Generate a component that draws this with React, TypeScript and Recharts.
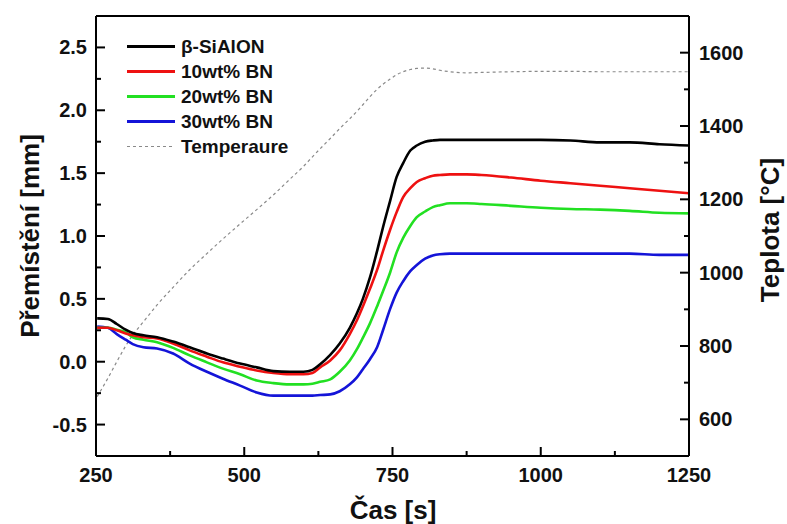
import React from 'react';
import { LineChart, Line, XAxis, YAxis, Legend, ReferenceLine, Customized } from 'recharts';

const times = [252, 270, 285, 300, 312, 330, 353, 380, 408, 437, 464, 493, 521, 549, 577, 600, 615, 628, 645, 661, 678, 690, 700, 712, 724, 734, 746, 757, 768, 780, 791, 805, 818, 830, 847, 875, 900, 950, 1000, 1050, 1100, 1150, 1200, 1250];

const sialon = [0.345, 0.34, 0.3, 0.255, 0.228, 0.21, 0.195, 0.16, 0.115, 0.065, 0.025, -0.015, -0.045, -0.075, -0.08, -0.08, -0.065, -0.02, 0.055, 0.145, 0.27, 0.385, 0.5, 0.67, 0.88, 1.07, 1.28, 1.47, 1.58, 1.68, 1.72, 1.75, 1.76, 1.765, 1.765, 1.765, 1.765, 1.765, 1.765, 1.76, 1.745, 1.745, 1.73, 1.72];

const bn10 = [0.27, 0.27, 0.25, 0.225, 0.21, 0.195, 0.185, 0.145, 0.09, 0.04, -0.005, -0.04, -0.07, -0.09, -0.1, -0.1, -0.09, -0.045, 0.01, 0.09, 0.22, 0.33, 0.44, 0.58, 0.73, 0.88, 1.05, 1.19, 1.31, 1.38, 1.43, 1.46, 1.48, 1.485, 1.49, 1.49, 1.485, 1.465, 1.44, 1.42, 1.4, 1.38, 1.36, 1.34];

const bn20 = [0.27, 0.27, 0.255, 0.235, 0.195, 0.175, 0.155, 0.11, 0.05, -0.005, -0.055, -0.1, -0.15, -0.17, -0.18, -0.18, -0.175, -0.16, -0.14, -0.08, 0.01, 0.1, 0.19, 0.305, 0.44, 0.56, 0.71, 0.87, 0.985, 1.08, 1.15, 1.195, 1.23, 1.245, 1.26, 1.26, 1.255, 1.24, 1.225, 1.215, 1.21, 1.2, 1.185, 1.18];

const bn30 = [0.28, 0.27, 0.22, 0.175, 0.14, 0.115, 0.105, 0.065, -0.015, -0.08, -0.135, -0.19, -0.245, -0.27, -0.27, -0.27, -0.27, -0.265, -0.26, -0.235, -0.18, -0.125, -0.06, 0.02, 0.115, 0.25, 0.42, 0.55, 0.64, 0.72, 0.77, 0.82, 0.845, 0.855, 0.86, 0.86, 0.86, 0.86, 0.86, 0.86, 0.86, 0.86, 0.85, 0.85];

const temperature = [662, 712, 757, 800, 830, 866, 912, 960, 1008, 1052, 1092, 1133, 1172, 1212, 1255, 1290, 1316, 1338, 1366, 1393, 1420, 1440, 1458, 1480, 1500, 1514, 1528, 1540, 1548, 1554, 1557, 1558, 1556, 1552, 1548, 1545, 1546, 1548, 1549, 1549, 1548, 1548, 1548, 1548];

const xTicks = [250, 375, 500, 625, 750, 875, 1000, 1125, 1250];
const leftTicks = [-0.5, -0.25, 0, 0.25, 0.5, 0.75, 1, 1.25, 1.5, 1.75, 2, 2.25, 2.5];
const rightTicks = [600, 700, 800, 900, 1000, 1100, 1200, 1300, 1400, 1500, 1600];

const seriesNames = ['β-SiAlON', '10wt% BN', '20wt% BN', '30wt% BN', 'Temperaure'];
const seriesColors = ['#000000', '#ee1111', '#22e022', '#1414d8', '#8a8a8a'];

const data = times.map((t, i) => ({
  t,
  s0: sialon[i],
  s1: bn10[i],
  s2: bn20[i],
  s3: bn30[i],
  temp: temperature[i],
}));

const FONT = '"Liberation Sans", Arial, Helvetica, sans-serif';

const XTick = (props: any) => {
  const { x, y, payload } = props;
  const major = payload.value % 250 === 0;
  return (
    <g>
      <line x1={x} x2={x} y1={y} y2={y - (major ? 9 : 5)} stroke="#000" strokeWidth={2} />
      {major && (
        <text x={x} y={y + 26} textAnchor="middle" fontFamily={FONT} fontWeight="bold" fontSize={20} fill="#111">
          {payload.value}
        </text>
      )}
    </g>
  );
};

const LeftTick = (props: any) => {
  const { x, y, payload } = props;
  const v = payload.value;
  const major = Math.abs(v * 2 - Math.round(v * 2)) < 1e-6;
  return (
    <g>
      <line x1={x} x2={x + (major ? 9 : 5)} y1={y} y2={y} stroke="#000" strokeWidth={2} />
      {major && (
        <text x={x - 9} y={y + 7} textAnchor="end" fontFamily={FONT} fontWeight="bold" fontSize={20} fill="#111">
          {v.toFixed(1)}
        </text>
      )}
    </g>
  );
};

const RightTick = (props: any) => {
  const { x, y, payload } = props;
  const v = payload.value;
  const major = v % 200 === 0;
  return (
    <g>
      <line x1={x} x2={x - (major ? 9 : 5)} y1={y} y2={y} stroke="#000" strokeWidth={2} />
      {major && (
        <text x={x + 10} y={y + 7} textAnchor="start" fontFamily={FONT} fontWeight="bold" fontSize={20} fill="#111">
          {v}
        </text>
      )}
    </g>
  );
};

const Titles = () => (
  <g fontFamily={FONT} fontWeight="bold" fontSize={26} fill="#111">
    <text x={39} y={236} transform="rotate(-90 39 236)" textAnchor="middle">Přemístění [mm]</text>
    <text x={779} y={230} transform="rotate(-90 779 230)" textAnchor="middle">Teplota [°C]</text>
    <text x={393} y={519} textAnchor="middle">Čas [s]</text>
  </g>
);

const LegendContent = () => (
  <div style={{ fontFamily: FONT, fontWeight: 'bold', fontSize: 19, color: '#111' }}>
    {seriesNames.map((name, i) => (
      <div key={name} style={{ display: 'flex', alignItems: 'center', height: 25 }}>
        <svg width={48} height={25} style={{ display: 'block' }}>
          <line
            x1={0}
            x2={48}
            y1={12.5}
            y2={12.5}
            stroke={seriesColors[i]}
            strokeWidth={i === 4 ? 1.2 : 3}
            strokeDasharray={i === 4 ? '3 3' : undefined}
          />
        </svg>
        <span style={{ marginLeft: 6, whiteSpace: 'nowrap', lineHeight: '25px' }}>{name}</span>
      </div>
    ))}
  </div>
);

export default function App() {
  return (
    <div style={{ position: 'absolute', left: 0, top: 0, background: '#fff' }}>
      <LineChart width={787} height={524} data={data} margin={{ top: 16, right: 0, bottom: 0, left: 0 }}>
        <XAxis
          dataKey="t"
          type="number"
          domain={[250, 1250]}
          ticks={xTicks}
          interval={0}
          height={68}
          tickLine={false}
          tickSize={0}
          tickMargin={0}
          axisLine={{ stroke: '#000', strokeWidth: 2 }}
          tick={(p: any) => <XTick {...p} />}
          allowDataOverflow
        />
        <YAxis
          yAxisId="left"
          domain={[-0.75, 2.75]}
          ticks={leftTicks}
          interval={0}
          width={96}
          tickLine={false}
          tickSize={0}
          tickMargin={0}
          axisLine={{ stroke: '#000', strokeWidth: 2 }}
          tick={(p: any) => <LeftTick {...p} />}
          allowDataOverflow
        />
        <YAxis
          yAxisId="right"
          orientation="right"
          domain={[500, 1700]}
          ticks={rightTicks}
          interval={0}
          width={98}
          tickLine={false}
          tickSize={0}
          tickMargin={0}
          axisLine={{ stroke: '#000', strokeWidth: 2 }}
          tick={(p: any) => <RightTick {...p} />}
          allowDataOverflow
        />
        <ReferenceLine yAxisId="left" y={2.75} stroke="#000" strokeWidth={2} />
        <Line yAxisId="right" dataKey="temp" type="monotone" stroke={seriesColors[4]} strokeWidth={1.2} strokeDasharray="3 3" dot={false} isAnimationActive={false} />
        <Line yAxisId="left" dataKey="s3" type="monotone" stroke={seriesColors[3]} strokeWidth={2.6} dot={false} isAnimationActive={false} />
        <Line yAxisId="left" dataKey="s2" type="monotone" stroke={seriesColors[2]} strokeWidth={2.6} dot={false} isAnimationActive={false} />
        <Line yAxisId="left" dataKey="s1" type="monotone" stroke={seriesColors[1]} strokeWidth={2.6} dot={false} isAnimationActive={false} />
        <Line yAxisId="left" dataKey="s0" type="monotone" stroke={seriesColors[0]} strokeWidth={2.6} dot={false} isAnimationActive={false} />
        <Legend
          layout="vertical"
          align="center"
          verticalAlign="middle"
          content={() => <LegendContent />}
          wrapperStyle={{ left: 127, top: 34, width: 'auto', height: 'auto' }}
        />
        <Customized component={Titles} />
      </LineChart>
    </div>
  );
}
